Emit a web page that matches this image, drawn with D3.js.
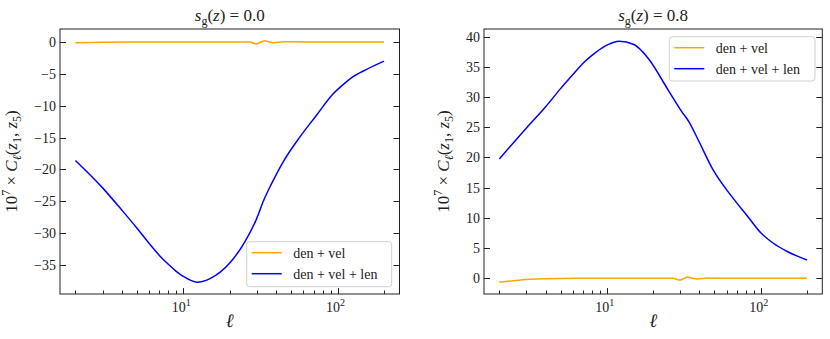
<!DOCTYPE html>
<html>
<head>
<meta charset="utf-8">
<script src="https://cdn.jsdelivr.net/npm/d3@7"></script>
<style>
  body { margin: 0; background: #fff; }
  text { fill: #222; }
</style>
</head>
<body>
<div id="vis"></div>
<script>
// values
var ellBlueA = [2, 3, 4, 5, 6, 7, 8, 9, 10, 12.3, 15, 20, 25, 29.8, 33, 37.4, 44.4, 57, 73, 93, 109, 126, 154, 200];
var blueA = [-18.6, -22.9, -26.4, -29.2, -31.6, -33.5, -34.9, -36.0, -36.8, -37.7, -37.1, -34.7, -31.4, -27.8, -25.0, -22.2, -18.8, -14.9, -11.5, -8.2, -6.65, -5.45, -4.3, -3.0];

var ellBlueB = [2, 3, 4, 5, 6, 7, 8, 10, 12, 15, 18.6, 25, 30.7, 34.2, 39.3, 49.2, 64.6, 82.7, 101, 121, 150, 200];
var blueB = [19.75, 24.9, 28.4, 31.4, 33.7, 35.6, 36.9, 38.6, 39.25, 38.7, 36.4, 31.2, 27.6, 25.9, 22.9, 17.9, 13.6, 10.2, 7.45, 5.8, 4.4, 3.03];

var ellOrange = [2, 3, 4, 5, 10, 20, 27, 29.8, 31.6, 33.8, 36, 38.4, 45, 60, 100, 200];
var orangeA = [-0.1, -0.04, -0.02, 0, 0, 0, 0, -0.3, -0.05, 0.2, 0.0, -0.1, 0.05, 0, 0, 0];
var orangeB = [-0.66, -0.2, -0.08, -0.03, 0, 0, 0, -0.3, -0.05, 0.2, 0.0, -0.1, 0.05, 0, 0, 0];

var titles = ["0.0", "0.8"];
var yTicksA = [-35, -30, -25, -20, -15, -10, -5, 0];
var yTicksB = [0, 5, 10, 15, 20, 25, 30, 35, 40];
var legendLabels = ["den + vel", "den + vel + len"];
var colors = ["orange", "blue"];

var svg = d3.select("#vis").append("svg").attr("width", 830).attr("height", 339)
    .style("font-family", "'Liberation Serif', 'DejaVu Serif', serif");

var panels = [
    {x0: 60, x1: 399.5, yDom: [-39.56, 2.04], yTicks: yTicksA, title: titles[0], ylabX: 17,
     series: [[ellOrange, orangeA], [ellBlueA, blueA]], legend: {x: 246.7, y: 241.7, w: 145, h: 45}},
    {x0: 484, x1: 822.3, yDom: [-2.6, 41.27], yTicks: yTicksB, title: titles[1], ylabX: 449,
     series: [[ellOrange, orangeB], [ellBlueB, blueB]], legend: {x: 669.3, y: 36.7, w: 145.7, h: 44.3}}
];
var yTop = 29, yBot = 294;

function fmt(v) { return v < 0 ? "\u2212" + Math.abs(v) : "" + v; }

panels.forEach(function (p) {
    var x = d3.scaleLog().domain([1.589, 251.8]).range([p.x0, p.x1]),
        y = d3.scaleLinear().domain(p.yDom).range([yBot, yTop]);
    var g = svg.append("g");

    // curves
    var line = d3.line().x(function (d) { return x(d[0]); }).y(function (d) { return y(d[1]); })
        .curve(d3.curveMonotoneX);
    p.series.forEach(function (s, i) {
        var pts = s[0].map(function (l, k) { return [l, s[1][k]]; });
        g.append("path").attr("d", line(pts)).attr("fill", "none")
            .attr("stroke", colors[i]).attr("stroke-width", 1.5);
    });

    // y ticks inward on both sides
    p.yTicks.forEach(function (t) {
        var yy = Math.round(y(t)) + 0.5;
        g.append("line").attr("x1", p.x0).attr("x2", p.x0 + 6).attr("y1", yy).attr("y2", yy).attr("stroke", "#222");
        g.append("line").attr("x1", p.x1 - 6).attr("x2", p.x1).attr("y1", yy).attr("y2", yy).attr("stroke", "#222");
        g.append("text").attr("x", p.x0 - 4).attr("y", y(t) + 5).attr("text-anchor", "end")
            .attr("font-size", 14).text(fmt(t));
    });

    // x ticks (major + minor), inward
    var majors = [10, 100];
    var minors = [2, 3, 4, 5, 6, 7, 8, 9, 20, 30, 40, 50, 60, 70, 80, 90, 200];
    majors.forEach(function (t) {
        var xx = Math.round(x(t)) + 0.5;
        g.append("line").attr("x1", xx).attr("x2", xx).attr("y1", yBot).attr("y2", yBot - 6).attr("stroke", "#222");
        var lab = g.append("text").attr("x", x(t) - 2).attr("y", yBot + 18).attr("text-anchor", "middle").attr("font-size", 14);
        lab.append("tspan").text("10");
        lab.append("tspan").attr("dy", -6).attr("font-size", 10).text(t === 10 ? "1" : "2");
    });
    minors.forEach(function (t) {
        var xx = Math.round(x(t)) + 0.5;
        g.append("line").attr("x1", xx).attr("x2", xx).attr("y1", yBot).attr("y2", yBot - 3.5).attr("stroke", "#222");
    });

    // frame
    g.append("rect").attr("x", p.x0).attr("y", yTop).attr("width", p.x1 - p.x0).attr("height", yBot - yTop)
        .attr("fill", "none").attr("stroke", "#222").attr("stroke-width", 1);

    // title
    var tt = g.append("text").attr("x", (p.x0 + p.x1) / 2).attr("y", 21).attr("text-anchor", "middle").attr("font-size", 17);
    tt.append("tspan").attr("font-style", "italic").text("s");
    tt.append("tspan").attr("dy", 4).attr("font-size", 12).text("g");
    tt.append("tspan").attr("dy", -4).text("(");
    tt.append("tspan").attr("font-style", "italic").text("z");
    tt.append("tspan").text(") = " + p.title);

    // x label
    g.append("text").attr("x", (p.x0 + p.x1) / 2).attr("y", 327).attr("text-anchor", "middle")
        .attr("font-size", 19).attr("font-style", "italic").text("\u2113");

    // y label
    var cy = (yTop + yBot) / 2;
    var yl = g.append("text").attr("transform", "translate(" + p.ylabX + "," + cy + ") rotate(-90)")
        .attr("text-anchor", "middle").attr("font-size", 17);
    yl.append("tspan").text("10");
    yl.append("tspan").attr("dy", -7).attr("font-size", 12).text("7");
    yl.append("tspan").attr("dy", 7).text(" \u00d7 ");
    yl.append("tspan").attr("font-style", "italic").text("C");
    yl.append("tspan").attr("dy", 4).attr("font-size", 12).attr("font-style", "italic").text("\u2113");
    yl.append("tspan").attr("dy", -4).text("(");
    yl.append("tspan").attr("font-style", "italic").text("z");
    yl.append("tspan").attr("dy", 4).attr("font-size", 12).text("1");
    yl.append("tspan").attr("dy", -4).text(", ");
    yl.append("tspan").attr("font-style", "italic").text("z");
    yl.append("tspan").attr("dy", 4).attr("font-size", 12).text("5");
    yl.append("tspan").attr("dy", -4).text(")");

    // legend
    var L = p.legend;
    g.append("rect").attr("x", L.x).attr("y", L.y).attr("width", L.w).attr("height", L.h).attr("rx", 3)
        .attr("fill", "rgba(255,255,255,0.8)").attr("stroke", "#d0d0d0");
    legendLabels.forEach(function (lab, i) {
        var ly = L.y + 11 + i * 21;
        g.append("line").attr("x1", L.x + 5).attr("x2", L.x + 35).attr("y1", ly).attr("y2", ly)
            .attr("stroke", colors[i]).attr("stroke-width", 1.5);
        g.append("text").attr("x", L.x + 46.5).attr("y", ly + 5).attr("font-size", 14).text(lab);
    });
});
</script>
</body>
</html>
